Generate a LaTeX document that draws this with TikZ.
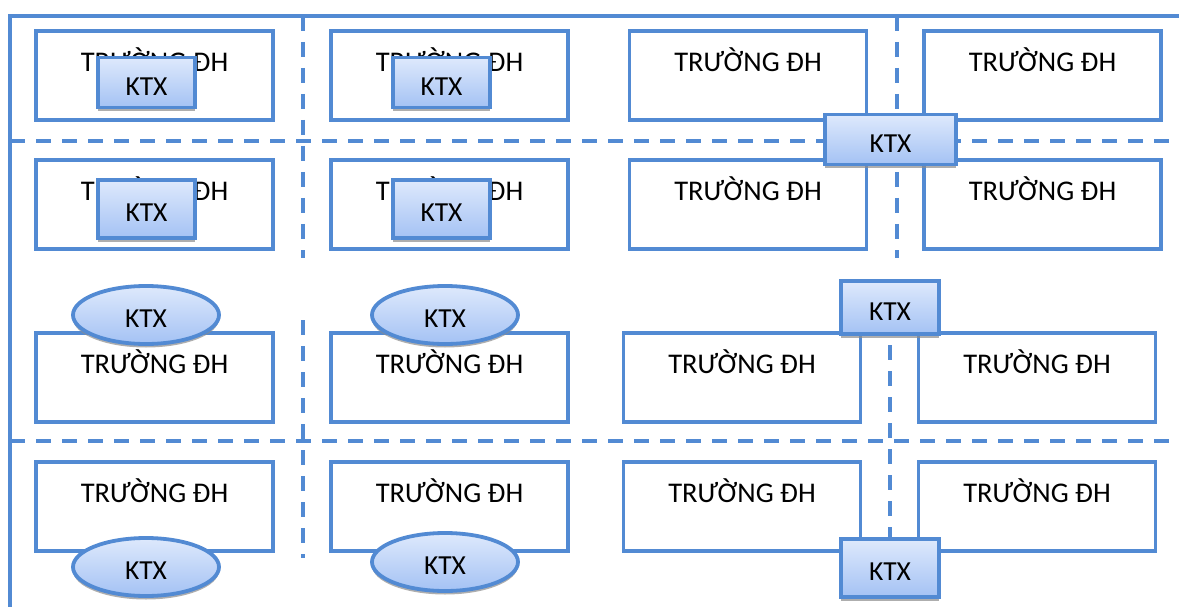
\documentclass[tikz,border=0pt]{standalone}
\usepackage{fontspec}
\setmainfont{Carlito}
\usetikzlibrary{shapes.geometric,shadows}
\definecolor{mapblue}{RGB}{82,138,211}
\definecolor{ktxtop}{RGB}{222,233,252}
\definecolor{ktxbot}{RGB}{164,194,244}
\newcommand{\ktx}{\raisebox{-4pt}[\height][\depth]{KTX}}
\tikzset{
  road/.style={draw=mapblue, line width=3.6pt},
  lane/.style={draw=mapblue, line width=3.8pt, dash pattern=on 15pt off 11pt},
  campus/.style={rectangle, draw=mapblue, line width=3.8pt, fill=white,
    minimum width=237pt, minimum height=89pt, inner sep=0pt},
  uname/.style={inner sep=0pt, font=\fontsize{28.5}{31}\selectfont},
  ktxbase/.style={draw=mapblue, line width=3.8pt, inner sep=0pt,
    top color=ktxtop, bottom color=ktxbot,
    drop shadow={shadow xshift=0pt, shadow yshift=-3.5pt, fill=black!45, opacity=0.7},
    font=\fontsize{27.5}{30}\selectfont},
  ktxbox/.style={ktxbase, rectangle},
  ktxoval/.style={ktxbase, ellipse, minimum width=146pt, minimum height=58pt},
}
\begin{document}
\begin{tikzpicture}[x=1pt,y=-1pt]
\useasboundingbox (0,0) rectangle (1179,607);

% outer roads
\draw[road] (10,607) -- (10,16) -- (1179,16);
% inner streets
\draw[lane] (10,141) -- (1179,141);
\draw[lane] (10,441) -- (1179,441);
\draw[lane] (303,16) -- (303,258);
\draw[lane] (303,320) -- (303,558);
\draw[lane] (897,16) -- (897,258);
\draw[lane] (890,345) -- (890,540);

% universities
\foreach \r/\y in {1/75.5, 2/204.5}{
  \foreach \c/\x in {1/154.5, 2/449.5, 3/748, 4/1042.5}{
    \node[campus] (u\r\c) at (\x,\y) {};
    \node[uname] (n\r\c) at ([yshift=-31pt]u\r\c.north) {TRƯỜNG ĐH};
  }
}
\foreach \r/\y in {3/377.5, 4/506.5}{
  \foreach \c/\x in {1/154.5, 2/449.5, 3/742, 4/1037}{
    \node[campus] (u\r\c) at (\x,\y) {};
    \node[uname] (n\r\c) at ([yshift=-31pt]u\r\c.north) {TRƯỜNG ĐH};
  }
}

% dormitories
\node[ktxbox, minimum width=97pt, minimum height=50pt] (k11) at (146.5,82.5) {\ktx};
\node[ktxbox, minimum width=97pt, minimum height=50pt] (k12) at (441.5,82.5) {\ktx};
\node[ktxbox, minimum width=97pt, minimum height=58pt] (k21) at (146.5,209) {\ktx};
\node[ktxbox, minimum width=97pt, minimum height=58pt] (k22) at (441.5,209) {\ktx};
\node[ktxbox, minimum width=131pt, minimum height=50pt] (kx) at (890.5,139.5) {\ktx};
\node[ktxbox, minimum width=98pt, minimum height=53pt] (k3) at (890,307.5) {\ktx};
\node[ktxbox, minimum width=98pt, minimum height=58pt] (k4) at (890,568) {\ktx};
\node[ktxoval] (e31) at (146,315) {\ktx};
\node[ktxoval] (e32) at (445,315) {\ktx};
\node[ktxoval] (e41) at (146,567) {\ktx};
\node[ktxoval] (e42) at (445,562) {\ktx};
\end{tikzpicture}
\end{document}
